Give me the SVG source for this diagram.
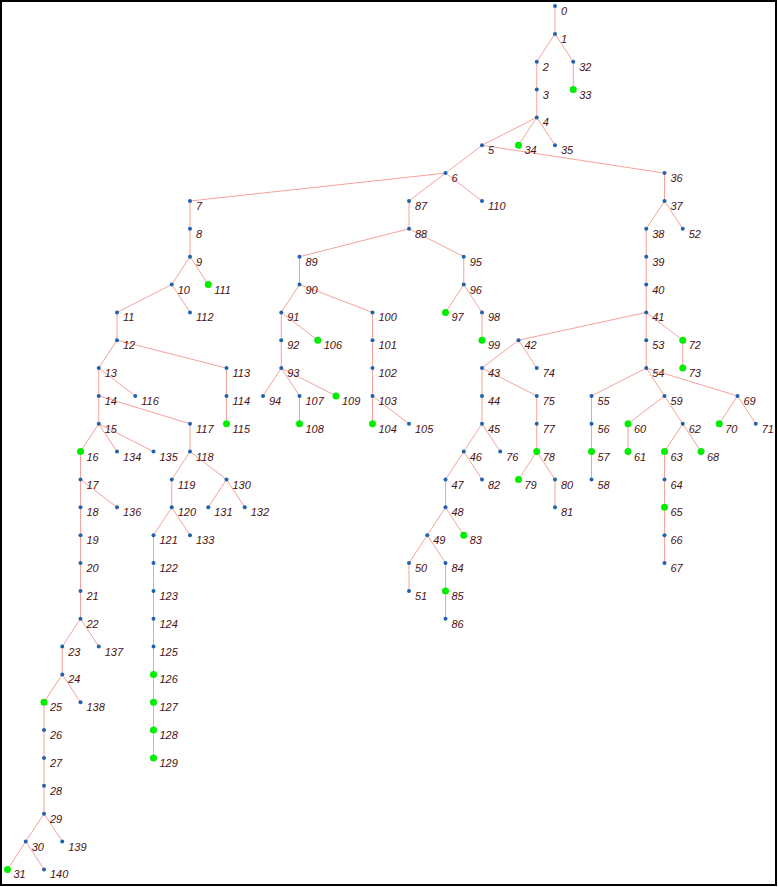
<svg xmlns="http://www.w3.org/2000/svg" width="778" height="887" viewBox="0 0 778 887">
<style>
.e line{stroke:#f5a39b;stroke-width:1}
.n circle{fill:#1f62b0}
.g circle{fill:#00ee00}
text{font-family:"Liberation Sans",Arial,sans-serif;font-style:italic;font-size:11px;fill:#4a1212}
</style>
<rect x="1" y="1" width="775" height="884" fill="#fff" stroke="#000" stroke-width="2"/>
<g class="e" id="edges">
<line x1="555" y1="6" x2="555" y2="33.9"/>
<line x1="555" y1="33.9" x2="536.75" y2="61.7"/>
<line x1="555" y1="33.9" x2="573.25" y2="61.7"/>
<line x1="536.75" y1="61.7" x2="536.75" y2="89.6"/>
<line x1="573.25" y1="61.7" x2="573.25" y2="89.6"/>
<line x1="536.75" y1="89.6" x2="536.75" y2="117.4"/>
<line x1="536.75" y1="117.4" x2="482" y2="145.3"/>
<line x1="536.75" y1="117.4" x2="518.5" y2="145.3"/>
<line x1="536.75" y1="117.4" x2="555" y2="145.3"/>
<line x1="482" y1="145.3" x2="445.5" y2="173.1"/>
<line x1="482" y1="145.3" x2="664.5" y2="173.1"/>
<line x1="445.5" y1="173.1" x2="190" y2="201"/>
<line x1="445.5" y1="173.1" x2="409" y2="201"/>
<line x1="445.5" y1="173.1" x2="482" y2="201"/>
<line x1="190" y1="201" x2="190" y2="228.8"/>
<line x1="190" y1="228.8" x2="190" y2="256.7"/>
<line x1="190" y1="256.7" x2="171.75" y2="284.5"/>
<line x1="190" y1="256.7" x2="208.25" y2="284.5"/>
<line x1="171.75" y1="284.5" x2="117" y2="312.4"/>
<line x1="171.75" y1="284.5" x2="190" y2="312.4"/>
<line x1="117" y1="312.4" x2="117" y2="340.2"/>
<line x1="117" y1="340.2" x2="98.75" y2="368.1"/>
<line x1="117" y1="340.2" x2="226.5" y2="368.1"/>
<line x1="98.75" y1="368.1" x2="98.75" y2="395.9"/>
<line x1="98.75" y1="368.1" x2="135.25" y2="395.9"/>
<line x1="226.5" y1="368.1" x2="226.5" y2="395.9"/>
<line x1="226.5" y1="395.9" x2="226.5" y2="423.8"/>
<line x1="98.75" y1="395.9" x2="98.75" y2="423.8"/>
<line x1="98.75" y1="395.9" x2="190" y2="423.8"/>
<line x1="98.75" y1="423.8" x2="80.5" y2="451.6"/>
<line x1="98.75" y1="423.8" x2="117" y2="451.6"/>
<line x1="98.75" y1="423.8" x2="153.5" y2="451.6"/>
<line x1="190" y1="423.8" x2="190" y2="451.6"/>
<line x1="190" y1="451.6" x2="171.75" y2="479.5"/>
<line x1="190" y1="451.6" x2="226.5" y2="479.5"/>
<line x1="171.75" y1="479.5" x2="171.75" y2="507.3"/>
<line x1="226.5" y1="479.5" x2="208.25" y2="507.3"/>
<line x1="226.5" y1="479.5" x2="244.75" y2="507.3"/>
<line x1="171.75" y1="507.3" x2="153.5" y2="535.2"/>
<line x1="171.75" y1="507.3" x2="190" y2="535.2"/>
<line x1="153.5" y1="535.2" x2="153.5" y2="563"/>
<line x1="153.5" y1="563" x2="153.5" y2="590.9"/>
<line x1="153.5" y1="590.9" x2="153.5" y2="618.7"/>
<line x1="153.5" y1="618.7" x2="153.5" y2="646.6"/>
<line x1="153.5" y1="646.6" x2="153.5" y2="674.4"/>
<line x1="153.5" y1="674.4" x2="153.5" y2="702.3"/>
<line x1="153.5" y1="702.3" x2="153.5" y2="730.1"/>
<line x1="153.5" y1="730.1" x2="153.5" y2="758"/>
<line x1="80.5" y1="451.6" x2="80.5" y2="479.5"/>
<line x1="80.5" y1="479.5" x2="80.5" y2="507.3"/>
<line x1="80.5" y1="507.3" x2="80.5" y2="535.2"/>
<line x1="80.5" y1="535.2" x2="80.5" y2="563"/>
<line x1="80.5" y1="563" x2="80.5" y2="590.9"/>
<line x1="80.5" y1="590.9" x2="80.5" y2="618.7"/>
<line x1="80.5" y1="479.5" x2="117" y2="507.3"/>
<line x1="80.5" y1="618.7" x2="62.25" y2="646.6"/>
<line x1="80.5" y1="618.7" x2="98.75" y2="646.6"/>
<line x1="62.25" y1="646.6" x2="62.25" y2="674.4"/>
<line x1="62.25" y1="674.4" x2="44" y2="702.3"/>
<line x1="62.25" y1="674.4" x2="80.5" y2="702.3"/>
<line x1="44" y1="702.3" x2="44" y2="730.1"/>
<line x1="44" y1="730.1" x2="44" y2="758"/>
<line x1="44" y1="758" x2="44" y2="785.8"/>
<line x1="44" y1="785.8" x2="44" y2="813.7"/>
<line x1="44" y1="813.7" x2="25.75" y2="841.5"/>
<line x1="44" y1="813.7" x2="62.25" y2="841.5"/>
<line x1="25.75" y1="841.5" x2="7.5" y2="869.4"/>
<line x1="25.75" y1="841.5" x2="44" y2="869.4"/>
<line x1="409" y1="201" x2="409" y2="228.8"/>
<line x1="409" y1="228.8" x2="299.5" y2="256.7"/>
<line x1="409" y1="228.8" x2="463.75" y2="256.7"/>
<line x1="299.5" y1="256.7" x2="299.5" y2="284.5"/>
<line x1="299.5" y1="284.5" x2="281.25" y2="312.4"/>
<line x1="299.5" y1="284.5" x2="372.5" y2="312.4"/>
<line x1="281.25" y1="312.4" x2="281.25" y2="340.2"/>
<line x1="281.25" y1="312.4" x2="317.75" y2="340.2"/>
<line x1="281.25" y1="340.2" x2="281.25" y2="368.1"/>
<line x1="281.25" y1="368.1" x2="263" y2="395.9"/>
<line x1="281.25" y1="368.1" x2="299.5" y2="395.9"/>
<line x1="281.25" y1="368.1" x2="336" y2="395.9"/>
<line x1="299.5" y1="395.9" x2="299.5" y2="423.8"/>
<line x1="372.5" y1="312.4" x2="372.5" y2="340.2"/>
<line x1="372.5" y1="340.2" x2="372.5" y2="368.1"/>
<line x1="372.5" y1="368.1" x2="372.5" y2="395.9"/>
<line x1="372.5" y1="395.9" x2="372.5" y2="423.8"/>
<line x1="372.5" y1="395.9" x2="409" y2="423.8"/>
<line x1="463.75" y1="256.7" x2="463.75" y2="284.5"/>
<line x1="463.75" y1="284.5" x2="445.5" y2="312.4"/>
<line x1="463.75" y1="284.5" x2="482" y2="312.4"/>
<line x1="482" y1="312.4" x2="482" y2="340.2"/>
<line x1="664.5" y1="173.1" x2="664.5" y2="201"/>
<line x1="664.5" y1="201" x2="646.25" y2="228.8"/>
<line x1="664.5" y1="201" x2="682.75" y2="228.8"/>
<line x1="646.25" y1="228.8" x2="646.25" y2="256.7"/>
<line x1="646.25" y1="256.7" x2="646.25" y2="284.5"/>
<line x1="646.25" y1="284.5" x2="646.25" y2="312.4"/>
<line x1="646.25" y1="312.4" x2="518.5" y2="340.2"/>
<line x1="646.25" y1="312.4" x2="646.25" y2="340.2"/>
<line x1="646.25" y1="312.4" x2="682.75" y2="340.2"/>
<line x1="682.75" y1="340.2" x2="682.75" y2="368.1"/>
<line x1="646.25" y1="340.2" x2="646.25" y2="368.1"/>
<line x1="518.5" y1="340.2" x2="482" y2="368.1"/>
<line x1="518.5" y1="340.2" x2="536.75" y2="368.1"/>
<line x1="482" y1="368.1" x2="482" y2="395.9"/>
<line x1="482" y1="368.1" x2="536.75" y2="395.9"/>
<line x1="482" y1="395.9" x2="482" y2="423.8"/>
<line x1="482" y1="423.8" x2="463.75" y2="451.6"/>
<line x1="482" y1="423.8" x2="500.25" y2="451.6"/>
<line x1="463.75" y1="451.6" x2="445.5" y2="479.5"/>
<line x1="463.75" y1="451.6" x2="482" y2="479.5"/>
<line x1="445.5" y1="479.5" x2="445.5" y2="507.3"/>
<line x1="445.5" y1="507.3" x2="427.25" y2="535.2"/>
<line x1="445.5" y1="507.3" x2="463.75" y2="535.2"/>
<line x1="427.25" y1="535.2" x2="409" y2="563"/>
<line x1="427.25" y1="535.2" x2="445.5" y2="563"/>
<line x1="409" y1="563" x2="409" y2="590.9"/>
<line x1="445.5" y1="563" x2="445.5" y2="590.9"/>
<line x1="445.5" y1="590.9" x2="445.5" y2="618.7"/>
<line x1="536.75" y1="395.9" x2="536.75" y2="423.8"/>
<line x1="536.75" y1="423.8" x2="536.75" y2="451.6"/>
<line x1="536.75" y1="451.6" x2="518.5" y2="479.5"/>
<line x1="536.75" y1="451.6" x2="555" y2="479.5"/>
<line x1="555" y1="479.5" x2="555" y2="507.3"/>
<line x1="646.25" y1="368.1" x2="591.5" y2="395.9"/>
<line x1="646.25" y1="368.1" x2="664.5" y2="395.9"/>
<line x1="646.25" y1="368.1" x2="737.5" y2="395.9"/>
<line x1="591.5" y1="395.9" x2="591.5" y2="423.8"/>
<line x1="591.5" y1="423.8" x2="591.5" y2="451.6"/>
<line x1="591.5" y1="451.6" x2="591.5" y2="479.5"/>
<line x1="664.5" y1="395.9" x2="628" y2="423.8"/>
<line x1="664.5" y1="395.9" x2="682.75" y2="423.8"/>
<line x1="628" y1="423.8" x2="628" y2="451.6"/>
<line x1="682.75" y1="423.8" x2="664.5" y2="451.6"/>
<line x1="682.75" y1="423.8" x2="701" y2="451.6"/>
<line x1="664.5" y1="451.6" x2="664.5" y2="479.5"/>
<line x1="664.5" y1="479.5" x2="664.5" y2="507.3"/>
<line x1="664.5" y1="507.3" x2="664.5" y2="535.2"/>
<line x1="664.5" y1="535.2" x2="664.5" y2="563"/>
<line x1="737.5" y1="395.9" x2="719.25" y2="423.8"/>
<line x1="737.5" y1="395.9" x2="755.75" y2="423.8"/>
</g>
<g id="nodes">
<g id="n0" class="n" transform="translate(555,6)"><circle r="2"/><text x="6" y="9">0</text></g>
<g id="n1" class="n" transform="translate(555,33.9)"><circle r="2"/><text x="6" y="9">1</text></g>
<g id="n2" class="n" transform="translate(536.75,61.7)"><circle r="2"/><text x="6" y="9">2</text></g>
<g id="n3" class="n" transform="translate(536.75,89.6)"><circle r="2"/><text x="6" y="9">3</text></g>
<g id="n4" class="n" transform="translate(536.75,117.4)"><circle r="2"/><text x="6" y="9">4</text></g>
<g id="n5" class="n" transform="translate(482,145.3)"><circle r="2"/><text x="6" y="9">5</text></g>
<g id="n6" class="n" transform="translate(445.5,173.1)"><circle r="2"/><text x="6" y="9">6</text></g>
<g id="n7" class="n" transform="translate(190,201)"><circle r="2"/><text x="6" y="9">7</text></g>
<g id="n8" class="n" transform="translate(190,228.8)"><circle r="2"/><text x="6" y="9">8</text></g>
<g id="n9" class="n" transform="translate(190,256.7)"><circle r="2"/><text x="6" y="9">9</text></g>
<g id="n10" class="n" transform="translate(171.75,284.5)"><circle r="2"/><text x="6" y="9">10</text></g>
<g id="n11" class="n" transform="translate(117,312.4)"><circle r="2"/><text x="6" y="9">11</text></g>
<g id="n12" class="n" transform="translate(117,340.2)"><circle r="2"/><text x="6" y="9">12</text></g>
<g id="n13" class="n" transform="translate(98.75,368.1)"><circle r="2"/><text x="6" y="9">13</text></g>
<g id="n14" class="n" transform="translate(98.75,395.9)"><circle r="2"/><text x="6" y="9">14</text></g>
<g id="n15" class="n" transform="translate(98.75,423.8)"><circle r="2"/><text x="6" y="9">15</text></g>
<g id="n16" class="g" transform="translate(80.5,451.6)"><circle r="3.5"/><text x="6" y="9">16</text></g>
<g id="n17" class="n" transform="translate(80.5,479.5)"><circle r="2"/><text x="6" y="9">17</text></g>
<g id="n18" class="n" transform="translate(80.5,507.3)"><circle r="2"/><text x="6" y="9">18</text></g>
<g id="n19" class="n" transform="translate(80.5,535.2)"><circle r="2"/><text x="6" y="9">19</text></g>
<g id="n20" class="n" transform="translate(80.5,563)"><circle r="2"/><text x="6" y="9">20</text></g>
<g id="n21" class="n" transform="translate(80.5,590.9)"><circle r="2"/><text x="6" y="9">21</text></g>
<g id="n22" class="n" transform="translate(80.5,618.7)"><circle r="2"/><text x="6" y="9">22</text></g>
<g id="n23" class="n" transform="translate(62.25,646.6)"><circle r="2"/><text x="6" y="9">23</text></g>
<g id="n24" class="n" transform="translate(62.25,674.4)"><circle r="2"/><text x="6" y="9">24</text></g>
<g id="n25" class="g" transform="translate(44,702.3)"><circle r="3.5"/><text x="6" y="9">25</text></g>
<g id="n26" class="n" transform="translate(44,730.1)"><circle r="2"/><text x="6" y="9">26</text></g>
<g id="n27" class="n" transform="translate(44,758)"><circle r="2"/><text x="6" y="9">27</text></g>
<g id="n28" class="n" transform="translate(44,785.8)"><circle r="2"/><text x="6" y="9">28</text></g>
<g id="n29" class="n" transform="translate(44,813.7)"><circle r="2"/><text x="6" y="9">29</text></g>
<g id="n30" class="n" transform="translate(25.75,841.5)"><circle r="2"/><text x="6" y="9">30</text></g>
<g id="n31" class="g" transform="translate(7.5,869.4)"><circle r="3.5"/><text x="6" y="9">31</text></g>
<g id="n32" class="n" transform="translate(573.25,61.7)"><circle r="2"/><text x="6" y="9">32</text></g>
<g id="n33" class="g" transform="translate(573.25,89.6)"><circle r="3.5"/><text x="6" y="9">33</text></g>
<g id="n34" class="g" transform="translate(518.5,145.3)"><circle r="3.5"/><text x="6" y="9">34</text></g>
<g id="n35" class="n" transform="translate(555,145.3)"><circle r="2"/><text x="6" y="9">35</text></g>
<g id="n36" class="n" transform="translate(664.5,173.1)"><circle r="2"/><text x="6" y="9">36</text></g>
<g id="n37" class="n" transform="translate(664.5,201)"><circle r="2"/><text x="6" y="9">37</text></g>
<g id="n38" class="n" transform="translate(646.25,228.8)"><circle r="2"/><text x="6" y="9">38</text></g>
<g id="n39" class="n" transform="translate(646.25,256.7)"><circle r="2"/><text x="6" y="9">39</text></g>
<g id="n40" class="n" transform="translate(646.25,284.5)"><circle r="2"/><text x="6" y="9">40</text></g>
<g id="n41" class="n" transform="translate(646.25,312.4)"><circle r="2"/><text x="6" y="9">41</text></g>
<g id="n42" class="n" transform="translate(518.5,340.2)"><circle r="2"/><text x="6" y="9">42</text></g>
<g id="n43" class="n" transform="translate(482,368.1)"><circle r="2"/><text x="6" y="9">43</text></g>
<g id="n44" class="n" transform="translate(482,395.9)"><circle r="2"/><text x="6" y="9">44</text></g>
<g id="n45" class="n" transform="translate(482,423.8)"><circle r="2"/><text x="6" y="9">45</text></g>
<g id="n46" class="n" transform="translate(463.75,451.6)"><circle r="2"/><text x="6" y="9">46</text></g>
<g id="n47" class="n" transform="translate(445.5,479.5)"><circle r="2"/><text x="6" y="9">47</text></g>
<g id="n48" class="n" transform="translate(445.5,507.3)"><circle r="2"/><text x="6" y="9">48</text></g>
<g id="n49" class="n" transform="translate(427.25,535.2)"><circle r="2"/><text x="6" y="9">49</text></g>
<g id="n50" class="n" transform="translate(409,563)"><circle r="2"/><text x="6" y="9">50</text></g>
<g id="n51" class="n" transform="translate(409,590.9)"><circle r="2"/><text x="6" y="9">51</text></g>
<g id="n52" class="n" transform="translate(682.75,228.8)"><circle r="2"/><text x="6" y="9">52</text></g>
<g id="n53" class="n" transform="translate(646.25,340.2)"><circle r="2"/><text x="6" y="9">53</text></g>
<g id="n54" class="n" transform="translate(646.25,368.1)"><circle r="2"/><text x="6" y="9">54</text></g>
<g id="n55" class="n" transform="translate(591.5,395.9)"><circle r="2"/><text x="6" y="9">55</text></g>
<g id="n56" class="n" transform="translate(591.5,423.8)"><circle r="2"/><text x="6" y="9">56</text></g>
<g id="n57" class="g" transform="translate(591.5,451.6)"><circle r="3.5"/><text x="6" y="9">57</text></g>
<g id="n58" class="n" transform="translate(591.5,479.5)"><circle r="2"/><text x="6" y="9">58</text></g>
<g id="n59" class="n" transform="translate(664.5,395.9)"><circle r="2"/><text x="6" y="9">59</text></g>
<g id="n60" class="g" transform="translate(628,423.8)"><circle r="3.5"/><text x="6" y="9">60</text></g>
<g id="n61" class="g" transform="translate(628,451.6)"><circle r="3.5"/><text x="6" y="9">61</text></g>
<g id="n62" class="n" transform="translate(682.75,423.8)"><circle r="2"/><text x="6" y="9">62</text></g>
<g id="n63" class="g" transform="translate(664.5,451.6)"><circle r="3.5"/><text x="6" y="9">63</text></g>
<g id="n64" class="n" transform="translate(664.5,479.5)"><circle r="2"/><text x="6" y="9">64</text></g>
<g id="n65" class="g" transform="translate(664.5,507.3)"><circle r="3.5"/><text x="6" y="9">65</text></g>
<g id="n66" class="n" transform="translate(664.5,535.2)"><circle r="2"/><text x="6" y="9">66</text></g>
<g id="n67" class="n" transform="translate(664.5,563)"><circle r="2"/><text x="6" y="9">67</text></g>
<g id="n68" class="g" transform="translate(701,451.6)"><circle r="3.5"/><text x="6" y="9">68</text></g>
<g id="n69" class="n" transform="translate(737.5,395.9)"><circle r="2"/><text x="6" y="9">69</text></g>
<g id="n70" class="g" transform="translate(719.25,423.8)"><circle r="3.5"/><text x="6" y="9">70</text></g>
<g id="n71" class="n" transform="translate(755.75,423.8)"><circle r="2"/><text x="6" y="9">71</text></g>
<g id="n72" class="g" transform="translate(682.75,340.2)"><circle r="3.5"/><text x="6" y="9">72</text></g>
<g id="n73" class="g" transform="translate(682.75,368.1)"><circle r="3.5"/><text x="6" y="9">73</text></g>
<g id="n74" class="n" transform="translate(536.75,368.1)"><circle r="2"/><text x="6" y="9">74</text></g>
<g id="n75" class="n" transform="translate(536.75,395.9)"><circle r="2"/><text x="6" y="9">75</text></g>
<g id="n76" class="n" transform="translate(500.25,451.6)"><circle r="2"/><text x="6" y="9">76</text></g>
<g id="n77" class="n" transform="translate(536.75,423.8)"><circle r="2"/><text x="6" y="9">77</text></g>
<g id="n78" class="g" transform="translate(536.75,451.6)"><circle r="3.5"/><text x="6" y="9">78</text></g>
<g id="n79" class="g" transform="translate(518.5,479.5)"><circle r="3.5"/><text x="6" y="9">79</text></g>
<g id="n80" class="n" transform="translate(555,479.5)"><circle r="2"/><text x="6" y="9">80</text></g>
<g id="n81" class="n" transform="translate(555,507.3)"><circle r="2"/><text x="6" y="9">81</text></g>
<g id="n82" class="n" transform="translate(482,479.5)"><circle r="2"/><text x="6" y="9">82</text></g>
<g id="n83" class="g" transform="translate(463.75,535.2)"><circle r="3.5"/><text x="6" y="9">83</text></g>
<g id="n84" class="n" transform="translate(445.5,563)"><circle r="2"/><text x="6" y="9">84</text></g>
<g id="n85" class="g" transform="translate(445.5,590.9)"><circle r="3.5"/><text x="6" y="9">85</text></g>
<g id="n86" class="n" transform="translate(445.5,618.7)"><circle r="2"/><text x="6" y="9">86</text></g>
<g id="n87" class="n" transform="translate(409,201)"><circle r="2"/><text x="6" y="9">87</text></g>
<g id="n88" class="n" transform="translate(409,228.8)"><circle r="2"/><text x="6" y="9">88</text></g>
<g id="n89" class="n" transform="translate(299.5,256.7)"><circle r="2"/><text x="6" y="9">89</text></g>
<g id="n90" class="n" transform="translate(299.5,284.5)"><circle r="2"/><text x="6" y="9">90</text></g>
<g id="n91" class="n" transform="translate(281.25,312.4)"><circle r="2"/><text x="6" y="9">91</text></g>
<g id="n92" class="n" transform="translate(281.25,340.2)"><circle r="2"/><text x="6" y="9">92</text></g>
<g id="n93" class="n" transform="translate(281.25,368.1)"><circle r="2"/><text x="6" y="9">93</text></g>
<g id="n94" class="n" transform="translate(263,395.9)"><circle r="2"/><text x="6" y="9">94</text></g>
<g id="n95" class="n" transform="translate(463.75,256.7)"><circle r="2"/><text x="6" y="9">95</text></g>
<g id="n96" class="n" transform="translate(463.75,284.5)"><circle r="2"/><text x="6" y="9">96</text></g>
<g id="n97" class="g" transform="translate(445.5,312.4)"><circle r="3.5"/><text x="6" y="9">97</text></g>
<g id="n98" class="n" transform="translate(482,312.4)"><circle r="2"/><text x="6" y="9">98</text></g>
<g id="n99" class="g" transform="translate(482,340.2)"><circle r="3.5"/><text x="6" y="9">99</text></g>
<g id="n100" class="n" transform="translate(372.5,312.4)"><circle r="2"/><text x="6" y="9">100</text></g>
<g id="n101" class="n" transform="translate(372.5,340.2)"><circle r="2"/><text x="6" y="9">101</text></g>
<g id="n102" class="n" transform="translate(372.5,368.1)"><circle r="2"/><text x="6" y="9">102</text></g>
<g id="n103" class="n" transform="translate(372.5,395.9)"><circle r="2"/><text x="6" y="9">103</text></g>
<g id="n104" class="g" transform="translate(372.5,423.8)"><circle r="3.5"/><text x="6" y="9">104</text></g>
<g id="n105" class="n" transform="translate(409,423.8)"><circle r="2"/><text x="6" y="9">105</text></g>
<g id="n106" class="g" transform="translate(317.75,340.2)"><circle r="3.5"/><text x="6" y="9">106</text></g>
<g id="n107" class="n" transform="translate(299.5,395.9)"><circle r="2"/><text x="6" y="9">107</text></g>
<g id="n108" class="g" transform="translate(299.5,423.8)"><circle r="3.5"/><text x="6" y="9">108</text></g>
<g id="n109" class="g" transform="translate(336,395.9)"><circle r="3.5"/><text x="6" y="9">109</text></g>
<g id="n110" class="n" transform="translate(482,201)"><circle r="2"/><text x="6" y="9">110</text></g>
<g id="n111" class="g" transform="translate(208.25,284.5)"><circle r="3.5"/><text x="6" y="9">111</text></g>
<g id="n112" class="n" transform="translate(190,312.4)"><circle r="2"/><text x="6" y="9">112</text></g>
<g id="n113" class="n" transform="translate(226.5,368.1)"><circle r="2"/><text x="6" y="9">113</text></g>
<g id="n114" class="n" transform="translate(226.5,395.9)"><circle r="2"/><text x="6" y="9">114</text></g>
<g id="n115" class="g" transform="translate(226.5,423.8)"><circle r="3.5"/><text x="6" y="9">115</text></g>
<g id="n116" class="n" transform="translate(135.25,395.9)"><circle r="2"/><text x="6" y="9">116</text></g>
<g id="n117" class="n" transform="translate(190,423.8)"><circle r="2"/><text x="6" y="9">117</text></g>
<g id="n118" class="n" transform="translate(190,451.6)"><circle r="2"/><text x="6" y="9">118</text></g>
<g id="n119" class="n" transform="translate(171.75,479.5)"><circle r="2"/><text x="6" y="9">119</text></g>
<g id="n120" class="n" transform="translate(171.75,507.3)"><circle r="2"/><text x="6" y="9">120</text></g>
<g id="n121" class="n" transform="translate(153.5,535.2)"><circle r="2"/><text x="6" y="9">121</text></g>
<g id="n122" class="n" transform="translate(153.5,563)"><circle r="2"/><text x="6" y="9">122</text></g>
<g id="n123" class="n" transform="translate(153.5,590.9)"><circle r="2"/><text x="6" y="9">123</text></g>
<g id="n124" class="n" transform="translate(153.5,618.7)"><circle r="2"/><text x="6" y="9">124</text></g>
<g id="n125" class="n" transform="translate(153.5,646.6)"><circle r="2"/><text x="6" y="9">125</text></g>
<g id="n126" class="g" transform="translate(153.5,674.4)"><circle r="3.5"/><text x="6" y="9">126</text></g>
<g id="n127" class="g" transform="translate(153.5,702.3)"><circle r="3.5"/><text x="6" y="9">127</text></g>
<g id="n128" class="g" transform="translate(153.5,730.1)"><circle r="3.5"/><text x="6" y="9">128</text></g>
<g id="n129" class="g" transform="translate(153.5,758)"><circle r="3.5"/><text x="6" y="9">129</text></g>
<g id="n130" class="n" transform="translate(226.5,479.5)"><circle r="2"/><text x="6" y="9">130</text></g>
<g id="n131" class="n" transform="translate(208.25,507.3)"><circle r="2"/><text x="6" y="9">131</text></g>
<g id="n132" class="n" transform="translate(244.75,507.3)"><circle r="2"/><text x="6" y="9">132</text></g>
<g id="n133" class="n" transform="translate(190,535.2)"><circle r="2"/><text x="6" y="9">133</text></g>
<g id="n134" class="n" transform="translate(117,451.6)"><circle r="2"/><text x="6" y="9">134</text></g>
<g id="n135" class="n" transform="translate(153.5,451.6)"><circle r="2"/><text x="6" y="9">135</text></g>
<g id="n136" class="n" transform="translate(117,507.3)"><circle r="2"/><text x="6" y="9">136</text></g>
<g id="n137" class="n" transform="translate(98.75,646.6)"><circle r="2"/><text x="6" y="9">137</text></g>
<g id="n138" class="n" transform="translate(80.5,702.3)"><circle r="2"/><text x="6" y="9">138</text></g>
<g id="n139" class="n" transform="translate(62.25,841.5)"><circle r="2"/><text x="6" y="9">139</text></g>
<g id="n140" class="n" transform="translate(44,869.4)"><circle r="2"/><text x="6" y="9">140</text></g>
</g>
</svg>
